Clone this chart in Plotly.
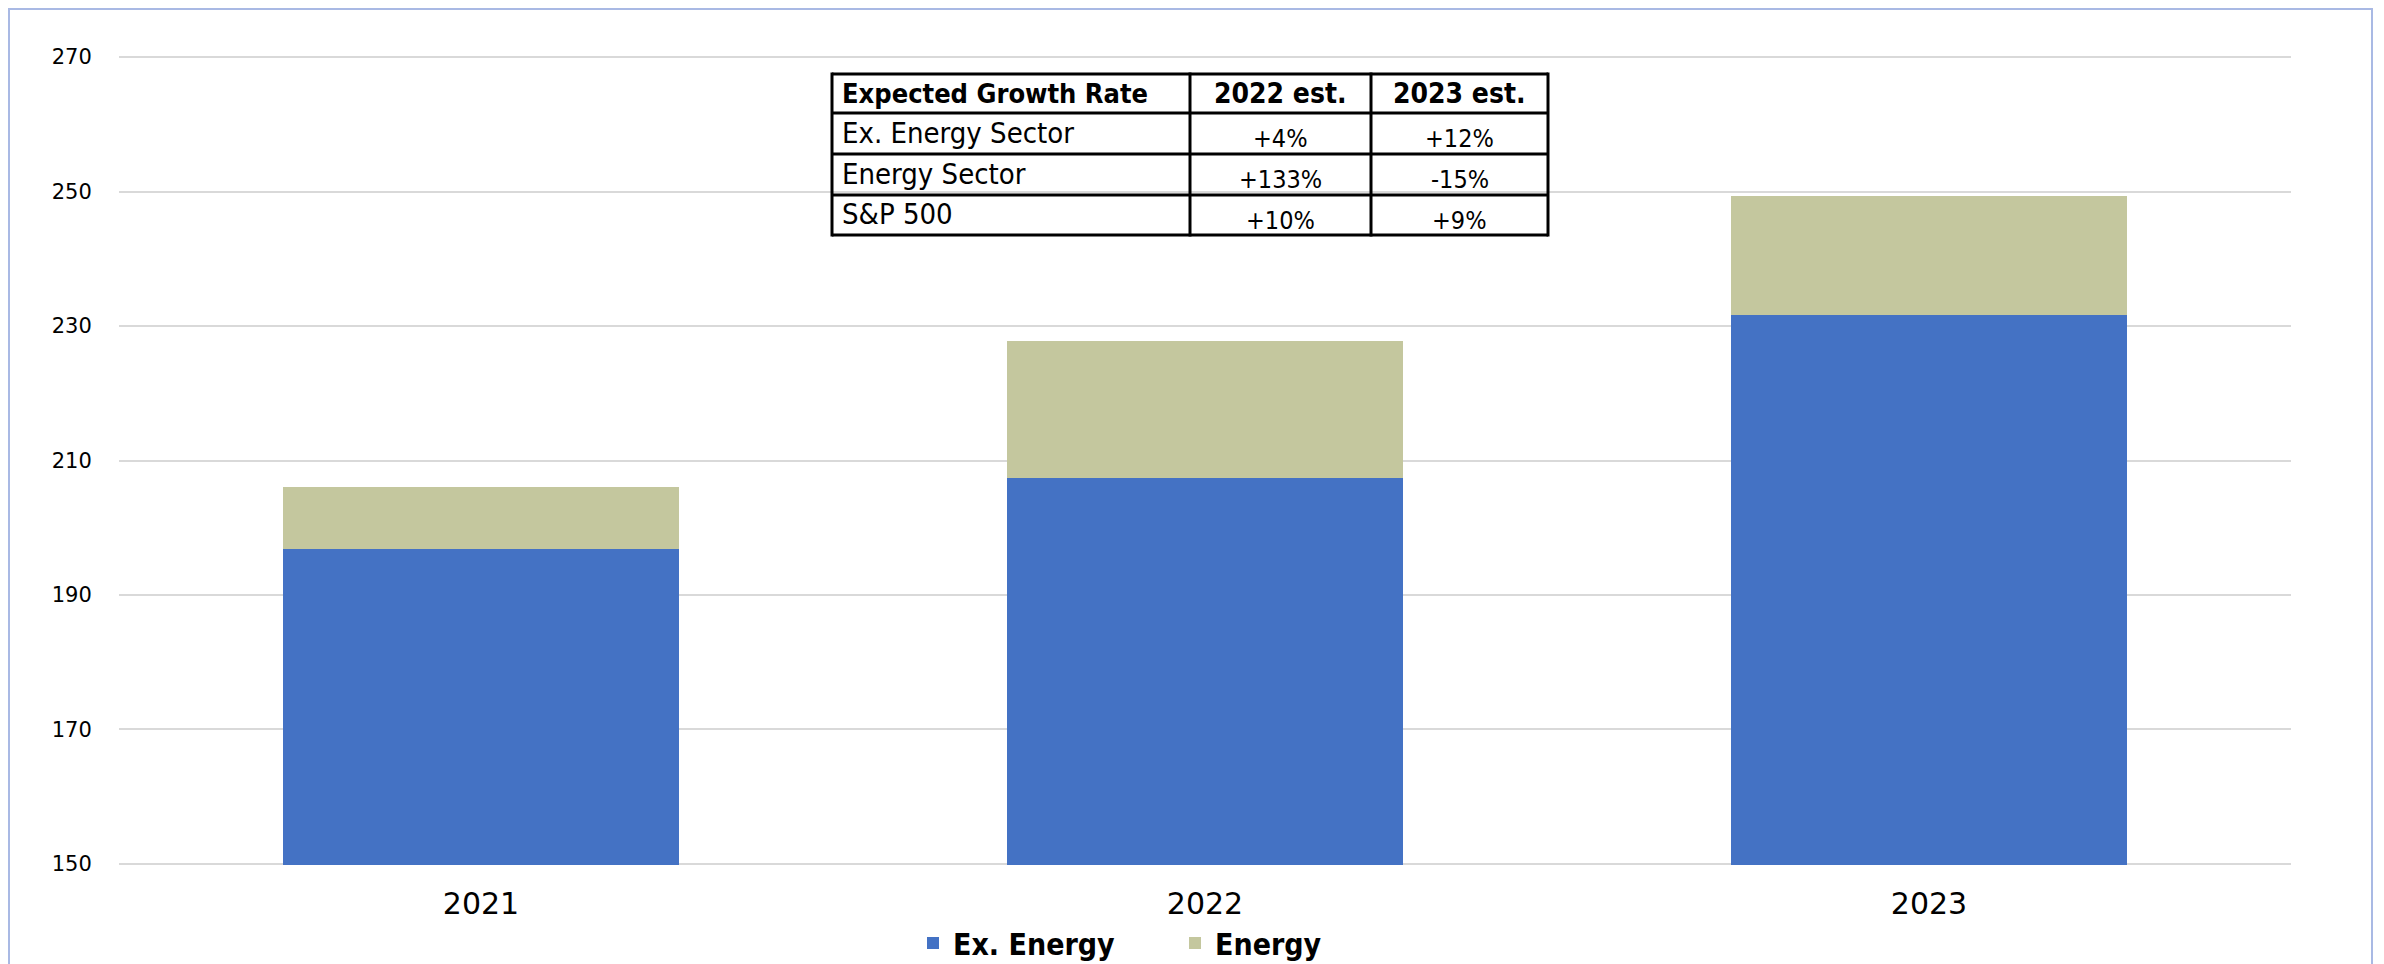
import plotly.graph_objects as go

# ---- data ----
years = ["2021", "2022", "2023"]
ex_energy = [196.8, 207.4, 231.7]
energy = [9.3, 20.3, 17.6]

table_header = ["Expected Growth Rate", "2022 est.", "2023 est."]
table_rows = ["Ex. Energy Sector", "Energy Sector", "S&P 500"]
growth_2022 = ["+4%", "+133%", "+10%"]
growth_2023 = ["+12%", "-15%", "+9%"]

OFF = 8  # browser body margin
W, H = 2384 - OFF, 964 - OFF
L, R, T, B = 119, 2291, 56, 865  # plot area in page px

def px(x):
    return (x - L) / (R - L)

def py(y):
    return (B - y) / (B - T)

NARROW = "DejaVu Sans Condensed, Liberation Sans Narrow, sans-serif"
WIDE = "DejaVu Sans, Verdana, sans-serif"

fig = go.Figure()
fig.add_trace(go.Bar(x=years, y=ex_energy, name="Ex. Energy",
                     marker=dict(color="#4472C4", line=dict(width=0))))
fig.add_trace(go.Bar(x=years, y=energy, name="Energy",
                     marker=dict(color="#C4C79E", line=dict(width=0))))

shapes = []
# outer border
shapes.append(dict(type="rect", xref="paper", yref="paper",
                   x0=px(OFF + 1), x1=px(2372), y0=py(OFF + 1), y1=py(1100),
                   line=dict(color="#A9B9E4", width=2), layer="below"))

# table geometry (page px)
col_x = [832, 1190, 1371, 1548]
row_y = [74, 113, 154, 195, 235]
for x in col_x:
    shapes.append(dict(type="line", xref="paper", yref="paper",
                       x0=px(x), x1=px(x), y0=py(row_y[0] - 1.5), y1=py(row_y[-1] + 1.5),
                       line=dict(color="black", width=3)))
for y in row_y:
    shapes.append(dict(type="line", xref="paper", yref="paper",
                       x0=px(col_x[0]), x1=px(col_x[-1]), y0=py(y), y1=py(y),
                       line=dict(color="black", width=3)))

annotations = []
hdr_y = (row_y[0] + row_y[1]) / 2
annotations.append(dict(text="<b>%s</b>" % table_header[0], xref="paper", yref="paper",
                        x=px(col_x[0] + 8), y=py(hdr_y), xanchor="left", yanchor="middle",
                        showarrow=False, font=dict(family=NARROW, size=27, color="black")))
for i in (1, 2):
    annotations.append(dict(text="<b>%s</b>" % table_header[i], xref="paper", yref="paper",
                            x=px((col_x[i] + col_x[i + 1]) / 2), y=py(hdr_y),
                            xanchor="center", yanchor="middle", showarrow=False,
                            font=dict(family=NARROW, size=28, color="black")))
for r in range(3):
    yc = (row_y[r + 1] + row_y[r + 2]) / 2
    annotations.append(dict(text=table_rows[r], xref="paper", yref="paper",
                            x=px(col_x[0] + 8), y=py(yc - 1), xanchor="left", yanchor="middle",
                            showarrow=False, font=dict(family=NARROW, size=29, color="black")))
    for c, vals in ((1, growth_2022), (2, growth_2023)):
        annotations.append(dict(text=vals[r], xref="paper", yref="paper",
                                x=px((col_x[c] + col_x[c + 1]) / 2), y=py(yc + 5),
                                xanchor="center", yanchor="middle", showarrow=False,
                                font=dict(family=NARROW, size=25, color="black")))

fig.update_layout(
    width=W, height=H,
    barmode="stack", bargap=0.452,
    paper_bgcolor="white", plot_bgcolor="white",
    margin=dict(l=L - OFF, r=(W + OFF) - R, t=T - OFF, b=(H + OFF) - B, pad=0, autoexpand=False),
    showlegend=True,
    legend=dict(orientation="h", x=px(913), y=py(943), xanchor="left", yanchor="middle",
                font=dict(family=NARROW, size=30, color="black", weight="bold"),
                itemwidth=30, entrywidth=217, entrywidthmode="pixels",
                traceorder="normal", bgcolor="rgba(0,0,0,0)"),
    xaxis=dict(showgrid=False, showline=False, ticks="outside", ticklen=12,
               tickcolor="rgba(0,0,0,0)",
               tickfont=dict(family=WIDE, size=30, color="black")),
    yaxis=dict(range=[149.85, 270.15], tick0=150, dtick=20, showgrid=True,
               gridcolor="#D9D9D9", gridwidth=2, zeroline=False, showline=False,
               ticks="outside", ticklen=22, tickcolor="rgba(0,0,0,0)",
               tickfont=dict(family=WIDE, size=21, color="black")),
    shapes=shapes,
    annotations=annotations,
)

fig.write_html("out.html")
